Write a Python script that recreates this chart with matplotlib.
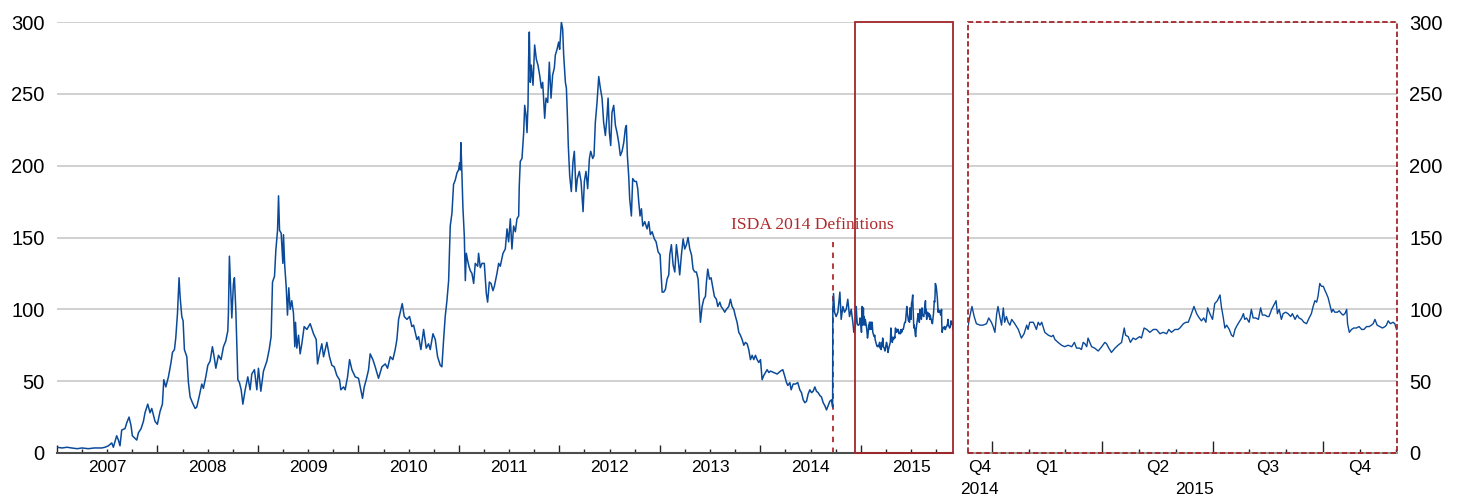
import matplotlib
matplotlib.use("Agg")
import matplotlib.pyplot as plt
from matplotlib.patches import Rectangle

plt.rcParams['font.family'] = ['Liberation Sans', 'DejaVu Sans']

# ---------------- data (decimal years, basis points) ----------------
hist_years = [
    2007.000, 2007.050, 2007.100, 2007.146, 2007.200, 2007.250, 2007.312, 2007.370, 2007.445, 2007.478,
    2007.511, 2007.545, 2007.561, 2007.594, 2007.611, 2007.627, 2007.644, 2007.677, 2007.694, 2007.717,
    2007.737, 2007.750, 2007.794, 2007.810, 2007.837, 2007.860, 2007.876, 2007.903, 2007.926, 2007.943,
    2007.976, 2007.999, 2008.026, 2008.049, 2008.063, 2008.083, 2008.109, 2008.135, 2008.149, 2008.169,
    2008.182, 2008.199, 2008.215, 2008.225, 2008.242, 2008.255, 2008.268, 2008.292, 2008.308, 2008.325,
    2008.348, 2008.375, 2008.391, 2008.414, 2008.441, 2008.457, 2008.481, 2008.501, 2008.524, 2008.547,
    2008.564, 2008.581, 2008.607, 2008.633, 2008.657, 2008.680, 2008.700, 2008.706, 2008.716, 2008.730,
    2008.740, 2008.756, 2008.766, 2008.780, 2008.800, 2008.816, 2008.833, 2008.850, 2008.873, 2008.899,
    2008.922, 2008.939, 2008.965, 2008.989, 2009.005, 2009.029, 2009.055, 2009.089, 2009.112, 2009.131,
    2009.145, 2009.165, 2009.178, 2009.195, 2009.205, 2009.215,
    2009.231, 2009.248, 2009.254, 2009.267, 2009.281, 2009.294, 2009.307, 2009.321, 2009.337, 2009.354,
    2009.367, 2009.374, 2009.387, 2009.404, 2009.420, 2009.437, 2009.460, 2009.487, 2009.520, 2009.553,
    2009.580, 2009.593, 2009.613, 2009.636, 2009.653, 2009.686, 2009.712, 2009.736, 2009.759, 2009.785,
    2009.812, 2009.825, 2009.852, 2009.868, 2009.892, 2009.912, 2009.935, 2009.968, 2010.001, 2010.024,
    2010.041, 2010.058, 2010.078, 2010.101, 2010.117, 2010.144, 2010.167, 2010.200, 2010.234, 2010.267,
    2010.290, 2010.317, 2010.343, 2010.366, 2010.383, 2010.400, 2010.423, 2010.436, 2010.456, 2010.483,
    2010.509, 2010.532, 2010.549, 2010.582, 2010.599, 2010.622, 2010.649, 2010.675, 2010.698, 2010.715,
    2010.742, 2010.765, 2010.788, 2010.815, 2010.831, 2010.848, 2010.864, 2010.881, 2010.898, 2010.914,
    2010.931, 2010.947, 2010.964, 2010.981, 2010.997, 2011.007, 2011.014, 2011.020, 2011.030, 2011.040,
    2011.054, 2011.064, 2011.074, 2011.087, 2011.100, 2011.113, 2011.130, 2011.147, 2011.163, 2011.187,
    2011.196, 2011.213, 2011.230, 2011.253, 2011.273, 2011.286, 2011.303, 2011.320, 2011.339, 2011.353,
    2011.379, 2011.396, 2011.412, 2011.439,
    2011.462, 2011.479, 2011.495, 2011.512, 2011.528, 2011.545, 2011.562, 2011.578, 2011.595, 2011.601,
    2011.611, 2011.628, 2011.645, 2011.655, 2011.668, 2011.678, 2011.688, 2011.694, 2011.701, 2011.711,
    2011.721, 2011.738, 2011.754, 2011.771, 2011.787, 2011.804, 2011.821, 2011.834, 2011.854, 2011.867,
    2011.884, 2011.900, 2011.917, 2011.933, 2011.950, 2011.960, 2011.977, 2011.993, 2012.003, 2012.020,
    2012.033, 2012.043, 2012.060, 2012.070, 2012.080, 2012.089, 2012.103, 2012.119, 2012.136, 2012.149,
    2012.166, 2012.179, 2012.199, 2012.216, 2012.236, 2012.249, 2012.265, 2012.282, 2012.299, 2012.312,
    2012.332, 2012.345, 2012.358, 2012.375, 2012.392, 2012.408, 2012.425, 2012.441, 2012.458, 2012.475,
    2012.485, 2012.498, 2012.511, 2012.524, 2012.541, 2012.558, 2012.574, 2012.591, 2012.607, 2012.624,
    2012.641, 2012.657, 2012.667, 2012.677, 2012.690, 2012.700, 2012.717, 2012.730, 2012.750, 2012.767,
    2012.780, 2012.790, 2012.803, 2012.817, 2012.830, 2012.850, 2012.873, 2012.890, 2012.906, 2012.923,
    2012.946, 2012.963, 2012.983, 2013.003, 2013.013, 2013.023, 2013.039, 2013.056, 2013.072, 2013.089,
    2013.099, 2013.115, 2013.132, 2013.149, 2013.165, 2013.182, 2013.198, 2013.215, 2013.232, 2013.248,
    2013.265, 2013.281, 2013.298, 2013.315, 2013.331, 2013.348, 2013.364, 2013.381,
    2013.404, 2013.421, 2013.437, 2013.454, 2013.464, 2013.477, 2013.494, 2013.510, 2013.530, 2013.543,
    2013.563, 2013.577, 2013.597, 2013.610, 2013.630, 2013.646, 2013.663, 2013.686, 2013.703, 2013.719,
    2013.736, 2013.753, 2013.769, 2013.786, 2013.802, 2013.819, 2013.836, 2013.852, 2013.869, 2013.885,
    2013.902, 2013.919, 2013.935, 2013.952, 2013.968, 2013.985, 2014.002, 2014.018, 2014.035, 2014.051,
    2014.068, 2014.085, 2014.101, 2014.134, 2014.168, 2014.201, 2014.224, 2014.241, 2014.261, 2014.274,
    2014.294, 2014.307, 2014.327, 2014.350, 2014.373, 2014.393, 2014.410, 2014.427, 2014.443, 2014.460,
    2014.476, 2014.493, 2014.510, 2014.526, 2014.543, 2014.559, 2014.576, 2014.593, 2014.609, 2014.626,
    2014.642, 2014.659, 2014.676, 2014.692, 2014.709, 2014.720, 2014.722, 2014.729, 2014.739, 2014.755,
    2014.772, 2014.792, 2014.805, 2014.822, 2014.838, 2014.855, 2014.871, 2014.888, 2014.905, 2014.921,
    2014.931,
]
hist_values = [
    4, 3.5, 4, 3.5, 3, 3.5, 3, 3.5, 3.5, 4,
    5, 7, 4, 12, 9, 5, 16, 17, 21, 25,
    19, 12, 9, 14, 17, 22, 28, 34, 28, 31,
    22, 20, 29, 34, 51, 46, 53, 63, 70, 72,
    80, 97, 122, 109, 95, 92, 72, 67, 49, 39,
    35, 31, 32, 39, 48, 45, 53, 61, 64, 74,
    67, 59, 68, 65, 74, 78, 85, 97, 137, 111,
    94, 118, 122, 99, 51, 49, 44, 34, 44, 53,
    44, 55, 58, 44, 59, 43, 57, 64, 72, 81,
    119, 123, 141, 155, 179, 155,
    153, 132, 152, 130, 116, 96, 115, 100, 106, 97,
    74, 91, 73, 82, 69, 76, 88, 86, 90, 83,
    79, 62, 69, 76, 67, 77, 67, 61, 60, 54,
    51, 44, 46, 44, 53, 65, 58, 53, 52, 44,
    38, 46, 51, 58, 69, 65, 60, 52, 60, 62,
    59, 67, 65, 72, 79, 93, 100, 104, 95, 93,
    95, 88, 89, 79, 81, 72, 86, 73, 76, 72,
    83, 79, 67, 61, 60, 79, 95, 106, 120, 158,
    167, 187, 190, 195, 197, 202, 197, 216, 195, 171,
    151, 120, 139, 134, 130, 127, 125, 118, 132, 130,
    139, 129, 132, 132, 111, 105, 119, 118, 113, 116,
    125, 132, 130, 139,
    142, 156, 147, 163, 142, 158, 154, 163, 165, 186,
    203, 205, 223, 242, 235, 223, 242, 274, 293, 258,
    270, 256, 284, 274, 270, 263, 254, 258, 233, 247,
    244, 272, 247, 263, 268, 277, 281, 286, 281, 300,
    295, 277, 258, 254, 235, 214, 193, 182, 203, 210,
    182, 191, 196, 189, 168, 189, 196, 184, 205, 210,
    205, 207, 230, 244, 262, 254, 247, 230, 221, 235,
    247, 223, 214, 237, 242, 228, 223, 216, 207, 210,
    216, 226, 228, 207, 193, 177, 165, 191, 189, 189,
    184, 175, 165, 170, 158, 161, 156, 161, 152, 154,
    149, 147, 140, 138, 124, 112, 112, 114, 121, 124,
    138, 145, 131, 126, 145, 135, 124, 138, 149, 142,
    145, 150, 142, 138, 128, 126, 126, 121,
    91, 102, 107, 109, 119, 128, 121, 122, 114, 109,
    107, 102, 105, 102, 100, 98, 100, 102, 107, 102,
    100, 95, 91, 84, 82, 79, 75, 77, 76, 72,
    65, 68, 65, 68, 65, 63, 65, 51, 54, 56,
    58, 56, 57, 56, 55, 57, 58, 54, 49, 47,
    49, 44, 48, 48, 49, 44, 42, 37, 35, 36,
    41, 44, 42, 43, 46, 43, 42, 40, 39, 35,
    33, 30, 33, 36, 37, 32, 100, 111, 98, 95,
    98, 112, 93, 102, 98, 100, 107, 95, 100, 91,
    84,
]

# period shown in the zoomed panel (same series, higher detail)
zoom_years = [
    2014.946, 2014.950, 2014.955, 2014.960, 2014.965, 2014.973, 2014.980, 2014.988, 2014.993, 2014.999,
    2015.003, 2015.007, 2015.011, 2015.014, 2015.018, 2015.022, 2015.026, 2015.029, 2015.033, 2015.037,
    2015.041, 2015.045, 2015.052, 2015.060, 2015.067, 2015.073, 2015.079, 2015.082, 2015.086, 2015.094,
    2015.097, 2015.101, 2015.105, 2015.109, 2015.113, 2015.116, 2015.120, 2015.128, 2015.135, 2015.139,
    2015.143, 2015.150, 2015.158, 2015.165, 2015.173, 2015.181, 2015.187, 2015.192, 2015.199, 2015.203,
    2015.207, 2015.211, 2015.215, 2015.218, 2015.222, 2015.226, 2015.233, 2015.241, 2015.249, 2015.256,
    2015.260, 2015.265, 2015.271, 2015.279, 2015.286, 2015.294, 2015.300, 2015.303, 2015.309, 2015.314,
    2015.320, 2015.326, 2015.330, 2015.335, 2015.339, 2015.345, 2015.351, 2015.358, 2015.366, 2015.373,
    2015.381, 2015.388, 2015.396, 2015.401, 2015.407, 2015.415, 2015.422,
    2015.426, 2015.434, 2015.440, 2015.445, 2015.450, 2015.458, 2015.464, 2015.470, 2015.475, 2015.480,
    2015.485, 2015.489, 2015.494, 2015.500, 2015.505, 2015.511, 2015.517, 2015.520, 2015.524, 2015.528,
    2015.532, 2015.538, 2015.543, 2015.547, 2015.551, 2015.556, 2015.560, 2015.566, 2015.570, 2015.573,
    2015.577, 2015.583, 2015.588, 2015.592, 2015.598, 2015.604, 2015.609, 2015.613, 2015.619, 2015.624,
    2015.628, 2015.634, 2015.639, 2015.644, 2015.647, 2015.651, 2015.656, 2015.660, 2015.666, 2015.671,
    2015.677, 2015.681, 2015.687, 2015.692, 2015.696, 2015.702, 2015.707, 2015.713, 2015.719, 2015.724,
    2015.728, 2015.732, 2015.736, 2015.739, 2015.743, 2015.747, 2015.751, 2015.755, 2015.758, 2015.762,
    2015.766, 2015.770, 2015.773, 2015.777, 2015.783, 2015.787, 2015.792, 2015.796, 2015.800, 2015.804,
    2015.806, 2015.810, 2015.815, 2015.820, 2015.826, 2015.832, 2015.838, 2015.843, 2015.849, 2015.855,
    2015.860, 2015.864, 2015.868, 2015.873, 2015.879, 2015.885, 2015.891, 2015.894, 2015.898, 2015.903,
    2015.909, 2015.913, 2015.917,
]
zoom_values = [
    88, 95, 102, 95, 90, 89, 89, 90, 94, 91,
    88, 84, 97, 102, 95, 89, 101, 91, 95, 91,
    89, 93, 90, 86, 80, 83, 89, 86, 91, 91,
    89, 86, 91, 89, 91, 88, 84, 82, 81, 82,
    79, 77, 75, 74, 75, 74, 77, 73, 73, 72,
    77, 76, 74, 80, 77, 74, 73, 71, 74, 77,
    76, 73, 70, 73, 75, 77, 87, 82, 81, 77,
    80, 79, 80, 81, 80, 87, 86, 84, 86, 86,
    83, 84, 83, 86, 84, 86, 86,
    87, 90, 91, 91, 95, 102, 97, 94, 92, 94,
    91, 101, 97, 93, 104, 106, 110, 102, 95, 87,
    89, 86, 82, 81, 86, 89, 91, 94, 97, 93,
    94, 91, 100, 94, 94, 93, 101, 96, 96, 95,
    95, 100, 103, 106, 97, 100, 93, 97, 98, 97,
    95, 97, 93, 96, 94, 93, 91, 90, 94, 97,
    102, 106, 105, 109, 118, 116, 116, 113, 111, 108,
    103, 98, 100, 98, 98, 99, 97, 96, 97, 100,
    90, 84, 86, 87, 87, 88, 86, 86, 88, 88,
    89, 90, 93, 89, 88, 87, 88, 89, 92, 90,
    91, 90, 86,
]

y_ticks = [0, 50, 100, 150, 200, 250, 300]
year_labels = ['2007', '2008', '2009', '2010', '2011', '2012', '2013', '2014', '2015']
quarter_labels = ['Q4', 'Q1', 'Q2', 'Q3', 'Q4']
quarter_starts = [2014.75, 2015.0, 2015.25, 2015.5, 2015.75]
zoom_year_labels = ['2014', '2015']
zoom_year_starts = [2014.0, 2015.0]
isda_year = 2014.722
isda_label = 'ISDA 2014 Definitions'

x_start, x_end = 2007.0, 2015.918
zoom_start = 2014.946
y_max = 300

# ---------------- styles ----------------
LINE = '#0B4A99'
RED = '#A3262A'
TEXT_RED = '#B02A2C'
GRID = '#C8C8C8'
AXIS = '#4D4D4D'

fig = plt.figure(figsize=(14.6, 4.97), dpi=100)
W, H = 1460, 497
ax1 = fig.add_axes([57 / W, 44 / H, 896 / W, 431 / H])
ax2 = fig.add_axes([968 / W, 44 / H, 429 / W, 431 / H])

full_years = hist_years + zoom_years
full_values = hist_values + zoom_values

# ---------- left panel ----------
ax1.plot(full_years, full_values, color=LINE, lw=1.1, zorder=3)
ax1.set_xlim(x_start, x_end)
ax1.set_ylim(0, y_max)
ax1.set_yticks(y_ticks)
ax1.yaxis.grid(True, color=GRID, lw=1.2)
ax1.set_axisbelow(True)
for s in ['top', 'right', 'left']:
    ax1.spines[s].set_visible(False)
ax1.spines['bottom'].set_color(AXIS)
ax1.spines['bottom'].set_linewidth(1.5)
ax1.spines['bottom'].set_zorder(4)
ax1.tick_params(axis='y', length=0, pad=9, labelsize=14.5)
ax1.set_xticks(range(2007, 2016))
ax1.set_xticklabels([])
ax1.set_xticks([y + q / 4 for y in range(2007, 2016) for q in (1, 2, 3)], minor=True)
ax1.tick_params(axis='x', which='major', direction='in', length=6, width=1.0, color='#222222')
ax1.tick_params(axis='x', which='minor', direction='in', length=3, width=1.0, color='#222222')
for i, lab in enumerate(year_labels):
    ax1.text(2007 + i + 0.5, -0.034, lab, transform=ax1.get_xaxis_transform(),
             ha='center', va='center', fontsize=12.5)

# highlight box of the zoomed period
ax1.add_patch(Rectangle((zoom_start, 0), x_end - zoom_start, y_max, fill=False,
                        ec=RED, lw=1.3, zorder=5, clip_on=False))
# ISDA event
ax1.vlines(isda_year, 0, 147, colors=TEXT_RED, linestyles=(0, (3, 3)), lw=1.3, zorder=2)
ax1.text(isda_year - 0.2, 158.5, isda_label, ha='center', va='center', fontsize=12.6,
         family=['Liberation Serif', 'DejaVu Serif'], color=TEXT_RED)

# ---------- right panel ----------
ax2.plot(zoom_years, zoom_values, color=LINE, lw=1.0, zorder=3)
ax2.set_xlim(zoom_start, x_end)
ax2.set_ylim(0, y_max)
ax2.set_yticks(y_ticks)
ax2.yaxis.grid(True, color=GRID, lw=1.2)
ax2.set_axisbelow(True)
ax2.yaxis.tick_right()
ax2.tick_params(axis='y', length=0, pad=9, labelsize=14.5)
for s in ['top', 'right', 'left']:
    ax2.spines[s].set_visible(False)
ax2.spines['bottom'].set_color('#9A9A9A')
ax2.spines['bottom'].set_linewidth(1.5)
ax2.set_xticks([q for q in quarter_starts if q > zoom_start])
ax2.set_xticklabels([])
ax2.set_xticks([2015 + m / 12 for m in range(1, 12) if m % 3 != 0], minor=True)
ax2.tick_params(axis='x', which='major', direction='in', length=9, width=1.0, color='#222222')
ax2.tick_params(axis='x', which='minor', direction='in', length=3, width=1.0, color='#222222')
for lab, qs in zip(quarter_labels, quarter_starts):
    lo, hi = max(qs, zoom_start), min(qs + 0.25, x_end)
    ax2.text((lo + hi) / 2, -0.034, lab, transform=ax2.get_xaxis_transform(),
             ha='center', va='center', fontsize=12.5)
for lab, ys in zip(zoom_year_labels, zoom_year_starts):
    lo, hi = max(ys, zoom_start), min(ys + 1, x_end)
    ax2.text((lo + hi) / 2, -0.085, lab, transform=ax2.get_xaxis_transform(),
             ha='center', va='center', fontsize=12.5)
ax2.add_patch(Rectangle((0, 0), 1, 1, transform=ax2.transAxes, fill=False, ec=RED,
                        lw=1.3, ls=(0, (3, 1.5)), zorder=5, clip_on=False))

fig.savefig('out.png', dpi=100)
